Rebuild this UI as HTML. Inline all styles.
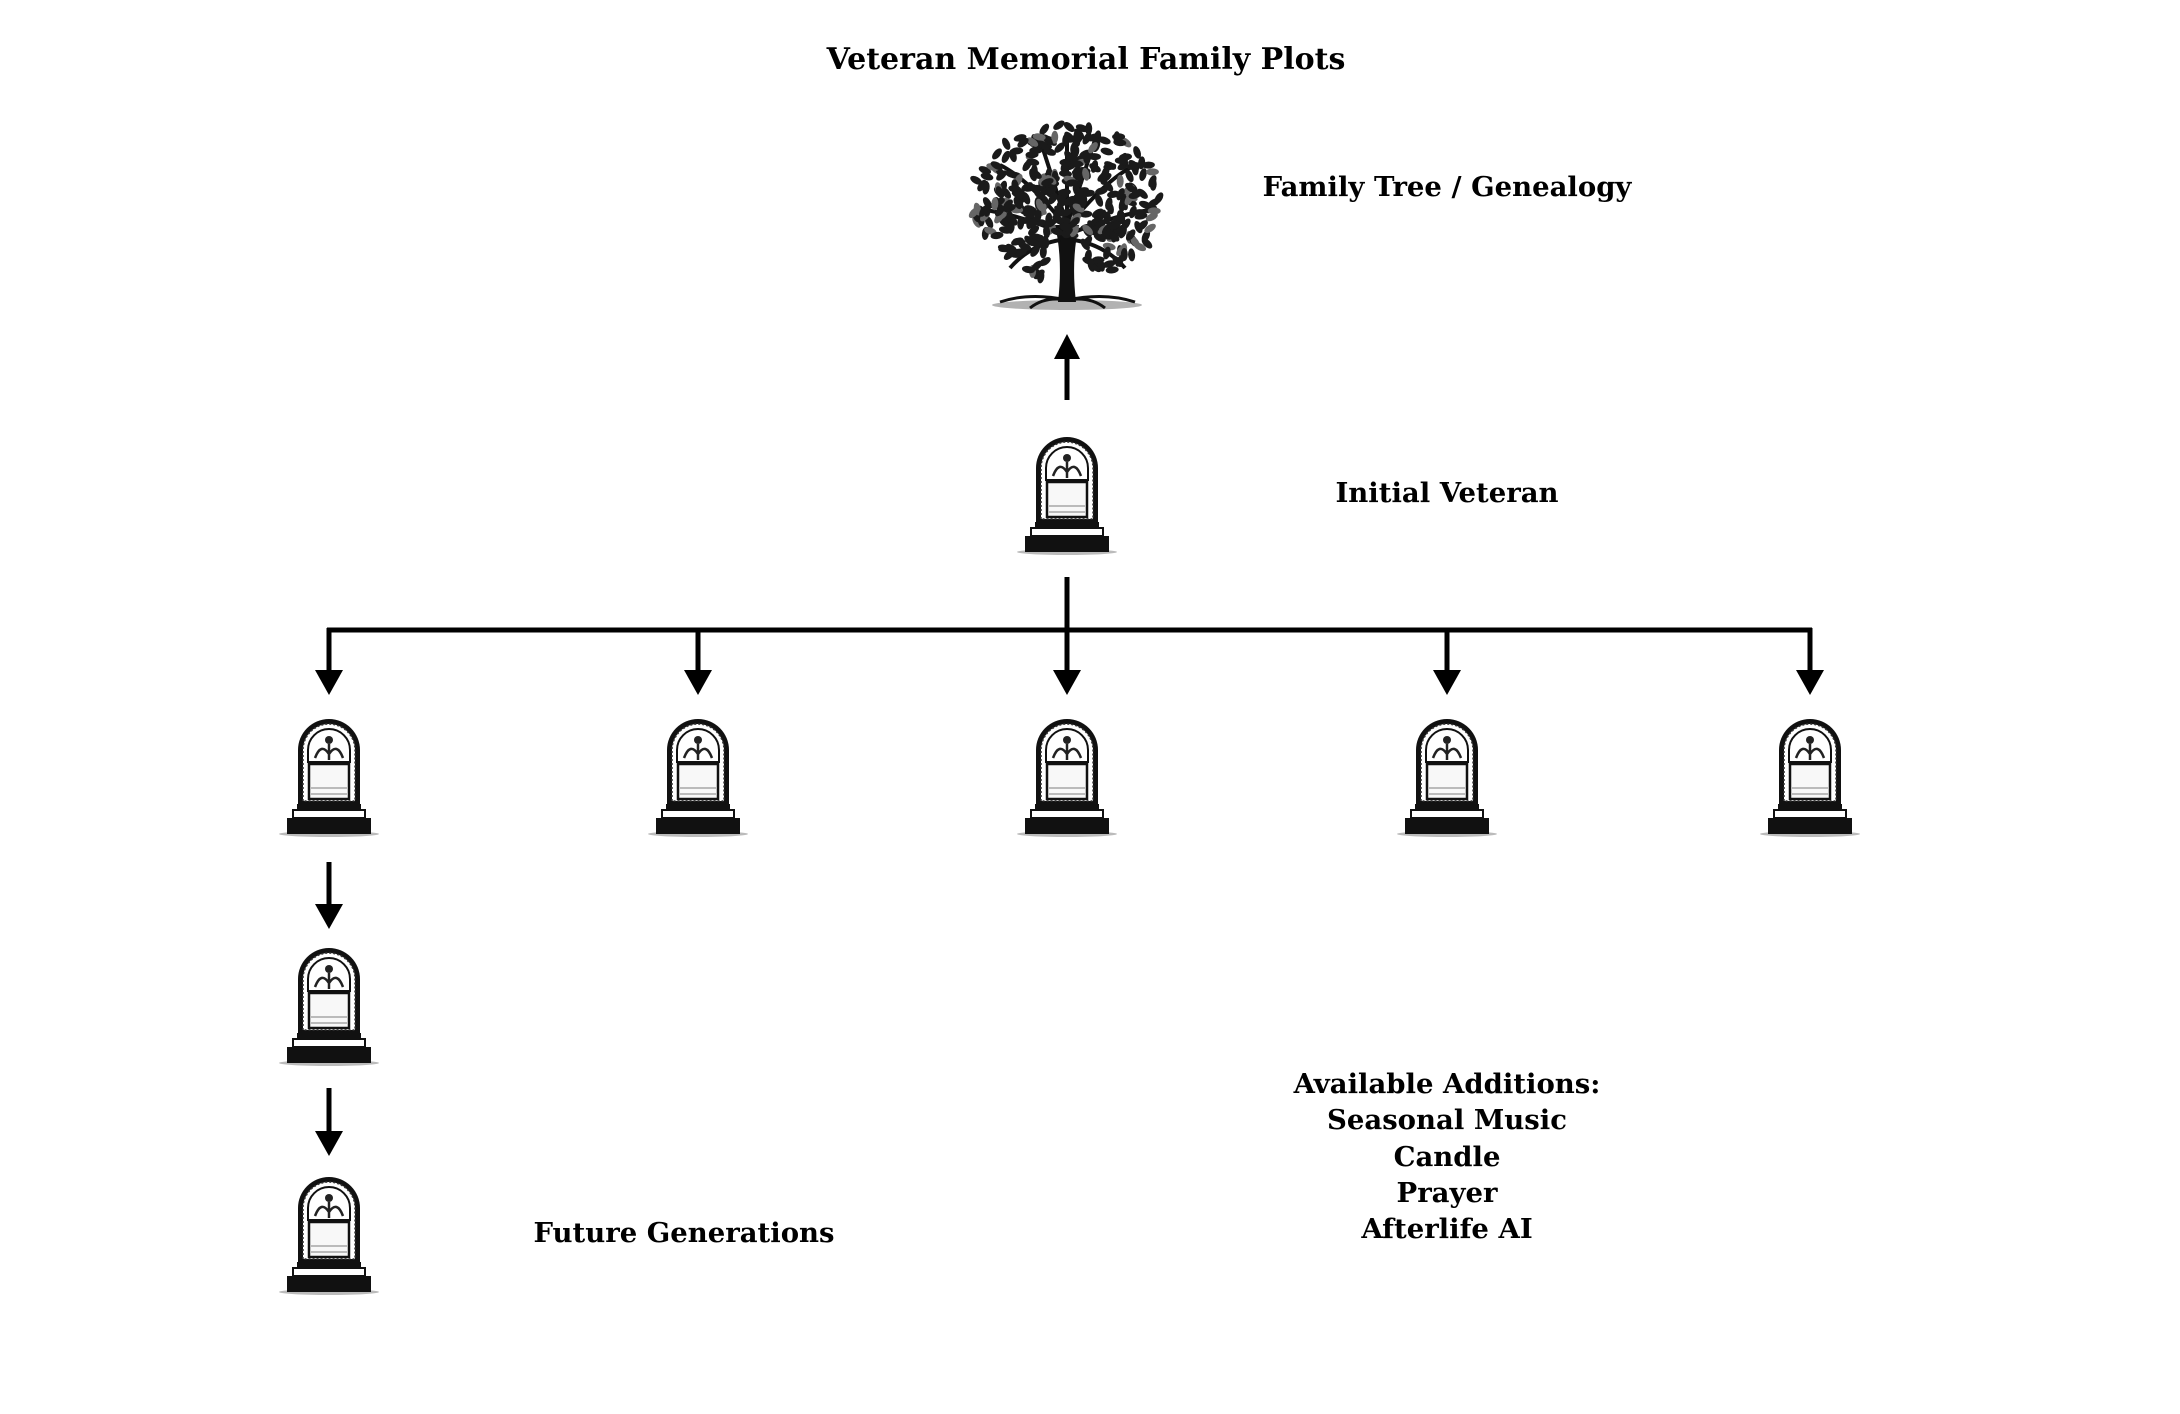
<!DOCTYPE html>
<html><head><meta charset="utf-8"><style>
html,body{margin:0;padding:0;background:#fff;}
body{width:2180px;height:1414px;position:relative;overflow:hidden;}
.t{position:absolute;font-family:"DejaVu Serif","Liberation Serif",serif;font-weight:bold;color:#000;white-space:nowrap;transform:translateX(-50%);text-align:center;}
svg{position:absolute;left:0;top:0;}
</style></head><body>
<svg id="s" width="2180" height="1414" viewBox="0 0 2180 1414">
<defs>
<g id="tomb">
 <ellipse cx="0" cy="114" rx="50" ry="3" fill="#777" opacity="0.5"/>
 <rect x="-42" y="98" width="84" height="16" fill="#111"/>
 <rect x="-36" y="90" width="72" height="8" fill="#fff" stroke="#111" stroke-width="2"/>
 <rect x="-32" y="84" width="64" height="6" fill="#111"/>
 <path d="M-31 84 V30 A31 31 0 0 1 31 30 V84 Z" fill="#111"/>
 <path d="M-26 81 V30 A26 26 0 0 1 26 30 V81 Z" fill="#fff" stroke="#333" stroke-width="1.5" stroke-dasharray="2 2"/>
 <path d="M-21 42 V30 A21 21 0 0 1 21 30 V42 Z" fill="#fff" stroke="#111" stroke-width="2"/>
 <circle cx="0" cy="20" r="4" fill="#222"/>
 <path d="M-14 38 Q-8 22 0 34 Q8 22 14 38 M0 24 V40" stroke="#222" stroke-width="2.5" fill="none"/>
 <rect x="-20" y="44" width="40" height="35" fill="#f8f8f8" stroke="#111" stroke-width="2.5"/>
 <path d="M-18 68 H18 M-18 74 H18" stroke="#bbb" stroke-width="2"/>
</g>
</defs>
<g fill="#000" stroke="#000">
 <line x1="1067" y1="400" x2="1067" y2="356" stroke-width="5"/>
 <polygon points="1054,359 1080,359 1067,334" stroke="none"/>
 <line x1="1067" y1="577" x2="1067" y2="632" stroke-width="5"/>
 <line x1="327" y1="630" x2="1812" y2="630" stroke-width="5"/>
</g>
<g id="arrows"></g>
<use href="#tomb" x="1067" y="438"/>
<use href="#tomb" x="329" y="720"/>
<use href="#tomb" x="698" y="720"/>
<use href="#tomb" x="1067" y="720"/>
<use href="#tomb" x="1447" y="720"/>
<use href="#tomb" x="1810" y="720"/>
<use href="#tomb" x="329" y="949"/>
<use href="#tomb" x="329" y="1178"/>
<g id="tree"></g>
</svg>
<div class="t" style="left:1086px;top:42px;font-size:30px;">Veteran Memorial Family Plots</div>
<div class="t" style="left:1447px;top:171px;font-size:27.5px;">Family Tree / Genealogy</div>
<div class="t" style="left:1447px;top:477px;font-size:27.5px;">Initial Veteran</div>
<div class="t" style="left:684px;top:1217px;font-size:27.5px;">Future Generations</div>
<div class="t" style="left:1447px;top:1066px;font-size:27.5px;line-height:36.3px;">Available Additions:<br>Seasonal Music<br>Candle<br>Prayer<br>Afterlife AI</div>
<script>
var NS="http://www.w3.org/2000/svg";
function el(p,n,a){var e=document.createElementNS(NS,n);for(var k in a)e.setAttribute(k,a[k]);p.appendChild(e);return e;}
var ar=document.getElementById('arrows');
function down(x,y1,y2){el(ar,'line',{x1:x,y1:y1,x2:x,y2:y2-22,stroke:'#000','stroke-width':5});el(ar,'polygon',{points:(x-14)+','+(y2-25)+' '+(x+14)+','+(y2-25)+' '+x+','+y2,fill:'#000'});}
[329,698,1067,1447,1810].forEach(function(x){down(x,628,695);});
down(329,862,929);down(329,1088,1156);
var t=document.getElementById('tree');var cx=1067,cy=210;
el(t,'ellipse',{cx:cx,cy:305,rx:75,ry:5,fill:'#666',opacity:.5});
['M1067 300 Q1030 292 1000 302','M1067 300 Q1105 292 1135 302','M1067 300 Q1045 296 1030 308','M1067 300 Q1090 296 1105 308'].forEach(function(d){el(t,'path',{d:d,stroke:'#111','stroke-width':3,fill:'none'});});
el(t,'path',{d:'M1058 302 Q1063 260 1055 225 L1079 225 Q1071 260 1076 302 Z',fill:'#111'});
var br=['M1067 235 Q1020 215 985 210','M1067 235 Q1115 215 1150 210','M1067 228 Q1030 180 1000 165','M1067 228 Q1105 180 1135 165','M1067 225 Q1050 170 1040 140','M1067 225 Q1085 170 1095 140','M1067 225 Q1067 170 1067 135','M1060 240 Q1030 245 1010 268','M1074 240 Q1105 245 1125 268'];
br.forEach(function(d){el(t,'path',{d:d,stroke:'#111','stroke-width':4,fill:'none'});});
var seed=7;function r(){seed=(seed*9301+49297)%233280;return seed/233280;}
for(var i=0;i<380;i++){var a=r()*Math.PI*2,d=Math.sqrt(r());var x=cx+Math.cos(a)*d*95,y=cy-8+Math.sin(a)*d*78;if(y>282)continue;if(Math.abs(x-cx)<14&&y>235)continue;
el(t,'ellipse',{cx:x.toFixed(1),cy:y.toFixed(1),rx:3.5,ry:6.5,fill:r()<0.85?'#1a1a1a':'#666',transform:'rotate('+(r()*360).toFixed(0)+' '+x.toFixed(1)+' '+y.toFixed(1)+')'});}
</script>
</body></html>
